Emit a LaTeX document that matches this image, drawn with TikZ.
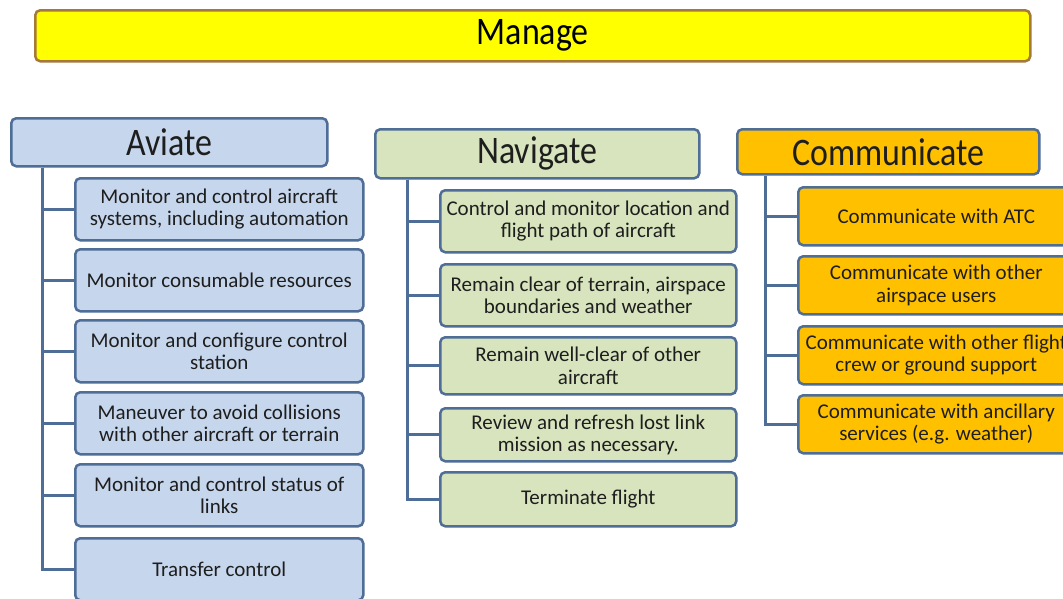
\documentclass[tikz,border=0pt]{standalone}
\usepackage{fontspec}
\setmainfont{Carlito}
\newfontfamily\headfont[FakeStretch=0.87]{Carlito}

\definecolor{managefill}{HTML}{FFFF00}
\definecolor{manageline}{HTML}{A5793A}
\definecolor{aviatefill}{HTML}{C6D6EC}
\definecolor{navfill}{HTML}{D7E4BD}
\definecolor{commfill}{HTML}{FFC000}
\definecolor{boxline}{HTML}{4E6D97}
\definecolor{boxtext}{HTML}{1E1E1E}

\begin{document}
\begin{tikzpicture}[x=1pt,y=-1pt,
    taskbox/.style={draw=boxline, line width=2.5pt, rounded corners=5pt, anchor=north west,
        inner sep=2pt, align=center, text=boxtext, font=\fontsize{21}{22.5}\selectfont},
    headbox/.style={taskbox, font=\headfont\fontsize{39}{44}\selectfont},
    branch/.style={draw=boxline, line width=3pt}]

    % page size of the reference
    \useasboundingbox (0,0) rectangle (1063,598);
    \fill[white] (0,0) rectangle (1063,598);

    % Top bar
    \node[headbox, fill=managefill, draw=manageline, text=black,
        minimum width=995pt, minimum height=51pt] (manage) at (34,9) {Manage};

    % Aviate column
    \node[headbox, fill=aviatefill, minimum width=316pt, minimum height=48pt] (aviate) at (10,117) {Aviate};
    \begin{scope}[every node/.style={taskbox, fill=aviatefill, minimum width=288pt, minimum height=62pt}]
    \node (av1) at (74,177) {Monitor and control aircraft\\systems, including automation};
    \node (av2) at (74,248) {Monitor consumable resources};
    \node (av3) at (74,319) {Monitor and configure control\\station};
    \node (av4) at (74,391) {Maneuver to avoid collisions\\with other aircraft or terrain};
    \node (av5) at (74,463) {Monitor and control status of\\links};
    \node (av6) at (74,537) {Transfer control};
    \end{scope}

    \coordinate (avtrunk) at ([xshift=32pt]aviate.south west);
    \foreach \k in {1,...,6}
        \draw[branch] (avtrunk) |- (av\k.west);

    % Navigate column
    \node[headbox, fill=navfill, minimum width=324pt, minimum height=49pt] (navigate) at (374,128) {Navigate};
    \begin{scope}[every node/.style={taskbox, fill=navfill, minimum width=296pt}]
    \node[minimum height=62pt] (nav1) at (439,189) {Control and monitor location and\\flight path of aircraft};
    \node[minimum height=62pt] (nav2) at (439,263) {Remain clear of terrain, airspace\\boundaries and weather};
    \node[minimum height=57pt] (nav3) at (439,336) {Remain well-clear of other\\aircraft};
    \node[minimum height=53pt] (nav4) at (439,407) {Review and refresh lost link\\mission as necessary.};
    \node[minimum height=54pt] (nav5) at (439,471) {Terminate flight};
    \end{scope}

    \coordinate (navtrunk) at ([xshift=33pt]navigate.south west);
    \foreach \k in {1,...,5}
        \draw[branch] (navtrunk) |- (nav\k.west);

    % Communicate column
    \node[headbox, fill=commfill, minimum width=302pt, minimum height=45pt] (communicate) at (736,128) {Communicate};
    \begin{scope}[every node/.style={taskbox, fill=commfill, minimum width=276pt, minimum height=58pt}]
    \node (com1) at (797,186) {Communicate with ATC};
    \node (com2) at (797,255) {Communicate with other\\airspace users};
    \node (com3) at (797,325) {Communicate with other flight\\crew or ground support};
    \node (com4) at (797,394) {Communicate with ancillary\\services (e.g. weather)};
    \end{scope}

    \coordinate (comtrunk) at ([xshift=29pt]communicate.south west);
    \foreach \k in {1,...,4}
        \draw[branch] (comtrunk) |- (com\k.west);
\end{tikzpicture}
\end{document}
